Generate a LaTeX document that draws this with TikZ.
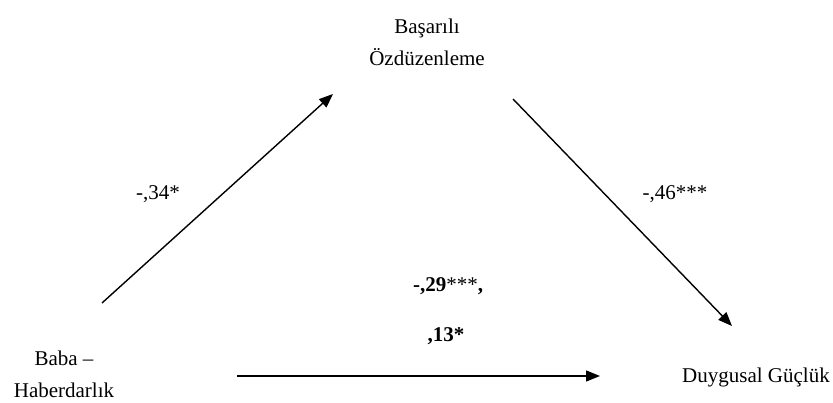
\documentclass[tikz,border=0pt]{standalone}
\usepackage{fontspec}
\setmainfont{Liberation Serif}
\usetikzlibrary{arrows.meta}
\begin{document}
\begin{tikzpicture}[x=1pt,y=-1pt,
  lbl/.style={font=\fontsize{21}{32}\selectfont, align=center, anchor=base, inner sep=0pt},
  path/.style={line width=1.4pt, -{Triangle[length=14pt,width=11pt]}}]
\useasboundingbox (0,0) rectangle (833,403);
\node[lbl] (med) at (427,66) {Başarılı\\Özdüzenleme};
\node[lbl] (iv) at (64,397) {Baba –\\Haberdarlık};
\node[lbl] (dv) at (756,382) {Duygusal Güçlük};
\node[lbl] (a) at (158,200) {-,34*};
\node[lbl] (b) at (675,200) {-,46***};
\node[lbl] (c1) at (448,292) {\textbf{-,29}***\textbf{,}};
\node[lbl] (c2) at (446,342) {\textbf{,13*}};
\coordinate (ivA) at (102,303);
\coordinate (medIn) at (333,94);
\coordinate (medOut) at (513,99);
\coordinate (dvIn) at (732,326);
\coordinate (ivB) at (237,376);
\coordinate (dvC) at (600,376);
\draw[path] (ivA) -- (medIn);
\draw[path] (medOut) -- (dvIn);
\draw[path] (ivB) -- (dvC);
\end{tikzpicture}
\end{document}
